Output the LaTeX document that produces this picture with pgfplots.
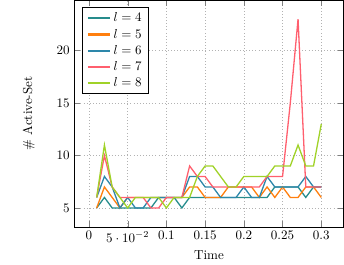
\documentclass[border=0pt]{standalone}
\usepackage{pgfplots}
\pgfplotsset{compat=1.18}
\definecolor{cA}{RGB}{38,140,140}
\definecolor{cB}{RGB}{255,127,14}
\definecolor{cC}{RGB}{45,135,170}
\definecolor{cD}{RGB}{255,95,110}
\definecolor{cE}{RGB}{160,210,40}
\begin{document}
\begin{tikzpicture}
\begin{axis}[
  scale only axis,
  width=207pt, height=174pt,
  xlabel={Time}, ylabel={\# Active-Set},
  ylabel shift=10pt,
  grid=major, grid style={dotted, gray!60},
  ytick={5,10,15,20},
  xtick={0,0.05,0.1,0.15,0.2,0.25,0.3},
  legend pos=north west,
  legend cell align=left,
  legend style={draw=black, line width=0.8pt},
  legend image code/.code={\draw[line width=1.6pt] (0cm,0cm) -- (0.6cm,0cm);},
  every axis plot/.append style={line width=1pt, no marks},
]
\addplot[cA] coordinates {(0.01,5)(0.02,6)(0.03,5)(0.04,5)(0.05,5)(0.06,5)(0.07,5)(0.08,5)(0.09,6)(0.10,6)(0.11,6)(0.12,5)(0.13,6)(0.14,6)(0.15,6)(0.16,6)(0.17,6)(0.18,6)(0.19,6)(0.20,6)(0.21,6)(0.22,6)(0.23,6)(0.24,7)(0.25,7)(0.26,7)(0.27,7)(0.28,6)(0.29,7)(0.30,7)};
\addlegendentry{$l=4$}
\addplot[cB] coordinates {(0.01,5)(0.02,7)(0.03,6)(0.04,5)(0.05,6)(0.06,6)(0.07,6)(0.08,6)(0.09,6)(0.10,6)(0.11,6)(0.12,6)(0.13,7)(0.14,7)(0.15,6)(0.16,6)(0.17,6)(0.18,7)(0.19,7)(0.20,7)(0.21,7)(0.22,6)(0.23,7)(0.24,6)(0.25,7)(0.26,6)(0.27,6)(0.28,7)(0.29,7)(0.30,6)};
\addlegendentry{$l=5$}
\addplot[cC] coordinates {(0.01,6)(0.02,8)(0.03,7)(0.04,5)(0.05,6)(0.06,5)(0.07,5)(0.08,6)(0.09,6)(0.10,6)(0.11,6)(0.12,6)(0.13,8)(0.14,8)(0.15,7)(0.16,7)(0.17,6)(0.18,6)(0.19,6)(0.20,7)(0.21,6)(0.22,6)(0.23,8)(0.24,7)(0.25,7)(0.26,7)(0.27,7)(0.28,8)(0.29,7)(0.30,7)};
\addlegendentry{$l=6$}
\addplot[cD] coordinates {(0.01,6)(0.02,10)(0.03,7)(0.04,6)(0.05,6)(0.06,6)(0.07,6)(0.08,5)(0.09,5)(0.10,6)(0.11,6)(0.12,6)(0.13,9)(0.14,8)(0.15,8)(0.16,7)(0.17,7)(0.18,7)(0.19,7)(0.20,7)(0.21,7)(0.22,7)(0.23,8)(0.24,8)(0.25,8)(0.26,15)(0.27,23)(0.28,7)(0.29,7)(0.30,7)};
\addlegendentry{$l=7$}
\addplot[cE] coordinates {(0.01,6)(0.02,11)(0.03,7)(0.04,6)(0.05,5)(0.06,6)(0.07,6)(0.08,6)(0.09,6)(0.10,5)(0.11,6)(0.12,6)(0.13,6)(0.14,8)(0.15,9)(0.16,9)(0.17,8)(0.18,7)(0.19,7)(0.20,8)(0.21,8)(0.22,8)(0.23,8)(0.24,9)(0.25,9)(0.26,9)(0.27,11)(0.28,9)(0.29,9)(0.30,13)};
\addlegendentry{$l=8$}
\end{axis}
\path ([xshift=-57pt]current axis.south west) -- ([xshift=-57pt]current axis.north west);
\end{tikzpicture}
\end{document}
